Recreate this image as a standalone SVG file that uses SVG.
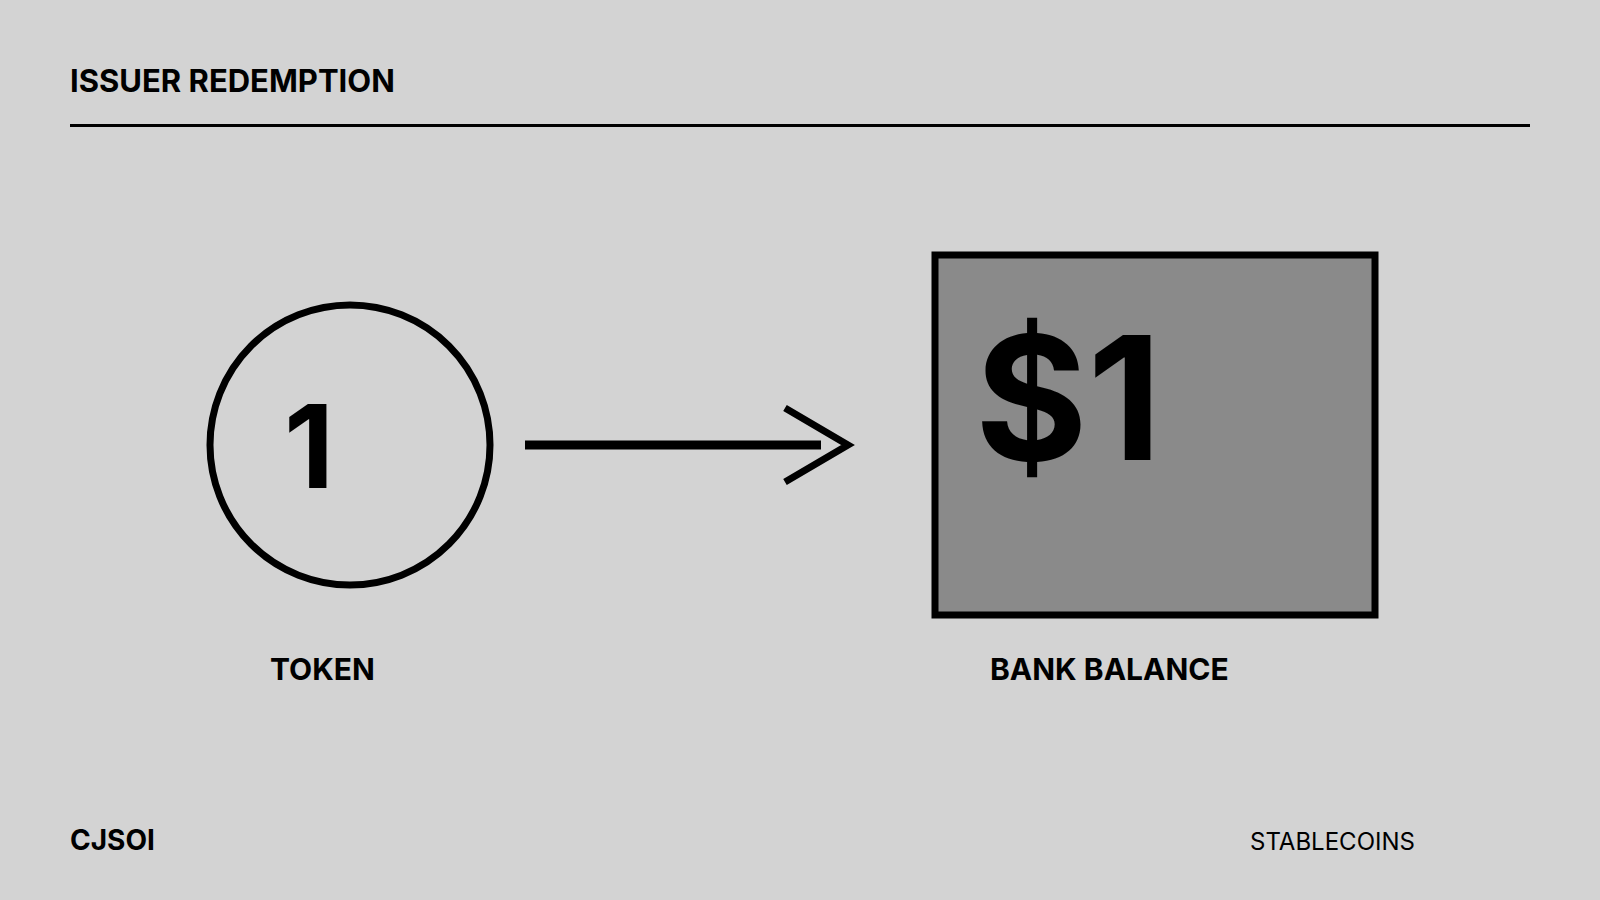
<svg xmlns="http://www.w3.org/2000/svg" width="1600" height="900" viewBox="0 0 1600 900">
<style>
.t{font-family:Inter,"Noto Sans","Liberation Sans",sans-serif;fill:#000}
.b{font-weight:700}
.k{fill:none;stroke:#000}
</style>
<rect x="0" y="0" width="1600" height="900" fill="#d3d3d3"/>
<g id="header">
<text class="t b" x="70" y="92" font-size="31">ISSUER REDEMPTION</text>
<line x1="70" y1="125.5" x2="1530" y2="125.5" stroke="#000" stroke-width="3"/>
</g>
<g id="token">
<circle class="k" cx="350" cy="445" r="140" stroke-width="7"/>
<text class="t b" x="309" y="488" font-size="116" text-anchor="middle">1</text>
<text class="t b" x="270" y="680" font-size="30">TOKEN</text>
</g>
<g id="bank">
<rect x="935" y="255" width="440" height="360" fill="#8a8a8a" stroke="#000" stroke-width="7"/>
<text class="t b" x="975" y="460" font-size="172">$1</text>
<text class="t b" x="990" y="680" font-size="30">BANK BALANCE</text>
</g>
<g id="connectors">
<line x1="525" y1="445" x2="821" y2="445" stroke="#000" stroke-width="9"/>
<polyline class="k" points="785,408 848,445 785,482" stroke-width="7"/>
</g>
<g id="footer">
<text class="t b" x="70" y="850" font-size="28">CJSOI</text>
<text class="t" x="1250" y="850" font-size="24">STABLECOINS</text>
</g>
</svg>
